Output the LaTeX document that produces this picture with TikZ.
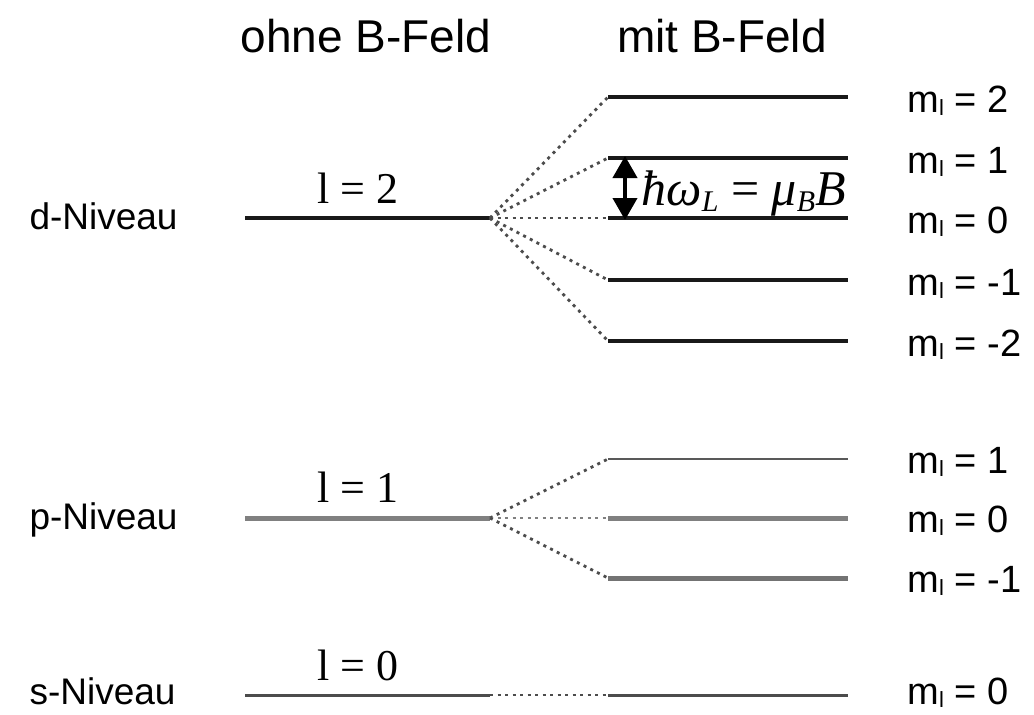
\documentclass[tikz,border=0pt]{standalone}
\usepackage{fontspec}
\setmainfont{Liberation Sans}
\newfontfamily\serif{Liberation Serif}
\usetikzlibrary{arrows.meta}
\newcommand{\mlsub}{m\raisebox{-3pt}{\fontsize{22}{24}\selectfont l}}
\begin{document}
\begin{tikzpicture}[x=1pt,y=-1pt,
  lvl/.style={line width=3.8pt,black!90},
  lvlp/.style={line width=5pt,black!50},
  lvlpthin/.style={line width=2.8pt,black!65},
  lvls/.style={line width=3pt,black!70},
  conn/.style={line width=2.8pt,black!70,dash pattern=on 3pt off 4.5pt},
  head/.style={font=\fontsize{46}{50}\selectfont,anchor=base},
  lab/.style={font=\fontsize{37}{40}\selectfont,anchor=base west},
  mlab/.style={font=\fontsize{38}{42}\selectfont,anchor=base west},
  lq/.style={font=\serif\fontsize{44}{48}\selectfont,anchor=base},
  arr/.style={line width=4pt,{Triangle[width=24pt,length=22pt]}-{Triangle[width=24pt,length=22pt]}}
]
\useasboundingbox (0,0) rectangle (1034,715);
% headers
\node[head] (h1) at (366,52) {ohne B-Feld};
\node[head] (h2) at (722,52) {mit B-Feld};
% level names
\node[lab] (dn) at (26,229) {d-Niveau};
\node[lab] (pn) at (26,529) {p-Niveau};
\node[lab] (sn) at (26,704) {s-Niveau};
% l labels
\node[lq] (l2) at (358,203) {l = 2};
\node[lq] (l1) at (358,502) {l = 1};
\node[lq] (l0) at (358,680) {l = 0};
% d level
\coordinate (dA) at (245,218);
\coordinate (dS) at (490,218);
\draw[lvl] (dA) -- (dS);
\foreach \n/\y in {2/97,1/158,0/218,m1/280,m2/341}{
  \coordinate (d\n a) at (608,\y);
  \coordinate (d\n b) at (848,\y);
  \draw[lvl] (d\n a) -- (d\n b);
  \draw[conn] (dS) -- (d\n a);
}
% p level
\coordinate (pA) at (245,518);
\coordinate (pS) at (490,518);
\draw[lvlp] (pA) -- (pS);
\coordinate (p1a) at (608,459); \coordinate (p1b) at (848,459);
\coordinate (p0a) at (608,518); \coordinate (p0b) at (848,518);
\coordinate (pm1a) at (608,578); \coordinate (pm1b) at (848,578);
\draw[lvlpthin] (p1a) -- (p1b);
\draw[lvlp] (p0a) -- (p0b);
\draw[lvlp,black!55] (pm1a) -- (pm1b);
\draw[conn] (pS) -- (p1a);
\draw[conn,black!50] (pS) -- (p0a);
\draw[conn] (pS) -- (pm1a);
% s level
\coordinate (sA) at (245,695);
\coordinate (sS) at (490,695);
\coordinate (s0a) at (608,695); \coordinate (s0b) at (848,695);
\draw[lvls] (sA) -- (sS);
\draw[conn] (sS) -- (s0a);
\draw[lvls] (s0a) -- (s0b);
% arrow
\coordinate (aT) at (625,158);
\coordinate (aB) at (625,218);
\draw[arr] ([yshift=2pt]aT) -- ([yshift=-2pt]aB);
\node[font=\serif\fontsize{50}{54}\selectfont,anchor=base west] (hw) at (638,205)
  {\itshape ħω\raisebox{-6pt}{\fontsize{30}{32}\selectfont L} \upshape= \itshape μ\raisebox{-6pt}{\fontsize{30}{32}\selectfont B}B};
% m labels
\node[mlab] (m2) at (904,112) {\mlsub{} = 2};
\node[mlab] (m1) at (904,173) {\mlsub{} = 1};
\node[mlab] (m0) at (904,233) {\mlsub{} = 0};
\node[mlab] (mm1) at (904,295) {\mlsub{} = -1};
\node[mlab] (mm2) at (904,356) {\mlsub{} = -2};
\node[mlab] (pm1) at (904,473) {\mlsub{} = 1};
\node[mlab] (pm0) at (904,532) {\mlsub{} = 0};
\node[mlab] (pmm1) at (904,592) {\mlsub{} = -1};
\node[mlab] (sm0) at (904,704) {\mlsub{} = 0};
\end{tikzpicture}
\end{document}
